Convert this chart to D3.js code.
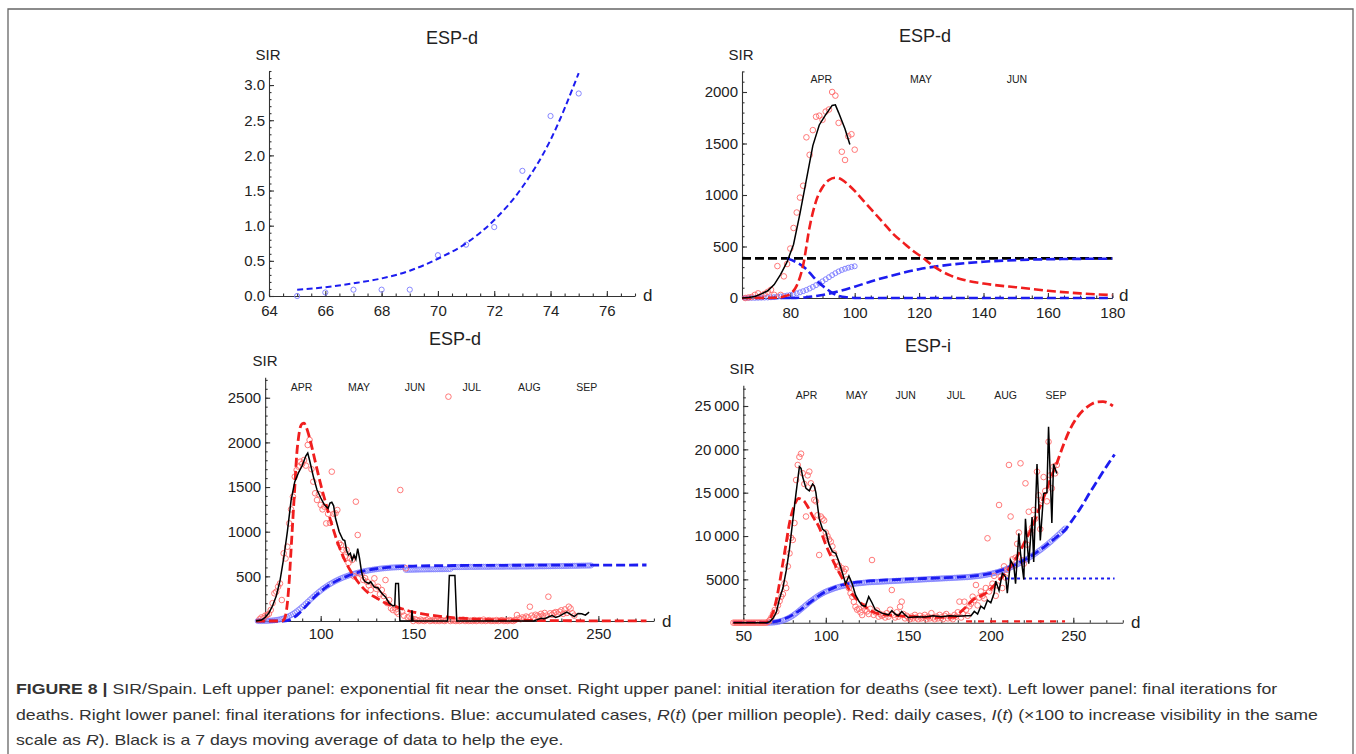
<!DOCTYPE html>
<html><head><meta charset="utf-8">
<script src="https://cdn.jsdelivr.net/npm/d3@7"></script>
<style>body{margin:0;background:#fff}svg{display:block}</style>
</head><body>
<svg id="c" width="1356" height="754"></svg>
<script>
// ---------------- DATA ----------------
const months = ["APR","MAY","JUN","JUL","AUG","SEP"];
const p2MonthDays = [89.6, 120.6, 150.4];
const p3MonthDays = [89.7, 120.7, 150.9, 181.6, 212.7, 243.7];
const p4MonthDays = [88.4, 118.7, 148.4, 178.9, 209.0, 239.5];

// Panel 1: exponential fit near the onset
const p1Days = [65,66,67,68,69,70,71,72,73,74,75];
const p1Obs  = [0.0,0.05,0.09,0.09,0.09,0.58,0.73,0.98,1.78,2.56,2.88];
const p1Fit  = [[65,0.09],[66,0.125],[67,0.18],[68,0.25],[69,0.36],[70,0.53],[71,0.75],[72,1.08],[73,1.55],[74,2.22],[75,3.17]];
const p1XTicks = [64,66,68,70,72,74,76];
const p1YTicks = [0,0.5,1,1.5,2,2.5,3];
const p1YTickLabels = ["0.0","0.5","1.0","1.5","2.0","2.5","3.0"];

// Panel 2: initial iteration for deaths
const p2Black = [[65,0],[67,5],[69,15],[71,40],[73,70],[75,130],[77,230],[79,350],[81,520],[83,820],[85,1150],[87,1480],[89,1680],[91,1780],[93,1870],[94,1875],[95,1800],[97,1640],[98.5,1490]];
const p2RedDays = [66,67,68,69,70,71,72,73,74,75,76,77,78,79,80,81,82,83,84,85,86,87,88,89,90,91,92,93,94,95,96,97,98,99,100];
const p2RedObs  = [0,5,10,30,45,20,40,60,80,30,310,30,210,330,480,680,830,975,1090,1560,1390,1630,1760,1770,1730,1810,1830,2000,1965,1700,1420,1340,1570,1590,1440];
const p2RedFit = [[65,0],[76,3],[78,15],[80,40],[82,120],[84,320],[86,690],[88,940],[90,1075],[92,1145],[94,1168],[96,1150],[98,1100],[100,1040],[102,970],[104,900],[106,830],[108,760],[110,690],[112,620],[115,540],[118,460],[121,395],[124,320],[127,260],[130,215],[134,175],[140,140],[145,120],[150,105],[160,70],[170,45],[180,28]];
const p2BlueDays = [66,67,68,69,70,71,72,73,74,75,76,77,78,79,80,81,82,83,84,85,86,87,88,89,90,91,92,93,94,95,96,97,98,99,100];
const p2BlueObs  = [0,0,1,1,2,3,4,5,7,9,12,15,19,24,30,37,45,55,66,78,92,108,125,143,162,182,202,222,241,258,272,284,294,302,308];
const p2BlueFit  = [[80,0],[85,8],[90,30],[95,65],[100,110],[105,160],[110,205],[115,245],[120,280],[125,305],[130,325],[135,340],[140,352],[150,368],[160,376],[170,380],[180,382]];
const p2BlueDown = [[79,385],[82,345],[85,280],[87,210],[89,145],[91,95],[93,50],[95,20],[98,5],[101,0],[180,0]];
const p2BlueBase = [[65,0],[80,0]];
const p2Level    = [[65,385],[180,385]];
const p2XTicks = [80,100,120,140,160,180];
const p2YTicks = [0,500,1000,1500,2000];

// Panel 3: final iterations for deaths
const p3Black = [[65,0],[68,10],[70,40],[72,90],[74,170],[76,280],[78,450],[80,700],[82,1000],[84,1350],[86,1560],[88,1660],[90,1740],[92,1850],[93,1880],[94,1800],[96,1620],[98,1470],[100,1380],[102,1300],[104,1260],[105,1320],[106,1330],[107,1290],[108,1150],[110,1000],[112,910],[113,900],[114,790],[115,740],[116,760],[117,680],[118,740],[119,690],[120,810],[121,700],[122,560],[123,470],[124,440],[126,420],[127,440],[129,380],[131,370],[133,310],[135,270],[137,200],[139,170],[140,170],[140.5,420],[142,420],[142.8,0],[149,0],[149.3,120],[149.8,0],[168.5,0],[169.5,510],[172.5,510],[173.5,0],[215,0],[217,15],[219,30],[221,25],[223,45],[225,60],[227,40],[229,55],[231,80],[233,100],[235,75],[237,50],[239,85],[241,80],[243,65],[245,100]];
const p3RedStart = 67;
const p3RedObs = [20,40,30,60,67,80,123,200,310,328,384,420,235,758,700,832,1093,1250,1392,1616,1690,1728,1784,1760,1803,1740,1971,2027,1700,1560,1430,1355,1420,1300,1250,1280,1093,1200,1100,1672,1200,1206,1243,870,850,796,720,796,650,700,684,500,1336,963,534,520,460,480,440,400,347,420,478,360,384,300,347,280,459,200,235,142,123,150,100,80,1467,104,60,590,40,50,30,0,
  20,10,0,15,5,0,10,20,0,5,10,0,15,0,10,5,0,10,2512,0,10,5,0,10,0,5,15,0,10,0,5,0,10,0,5,10,0,15,0,5,10,0,5,0,10,0,5,10,0,5,0,10,5,0,10,
  67,30,20,40,30,50,40,160,60,40,70,60,50,80,60,90,60,272,86,70,90,100,80,104,120,80,130,90,160,140,86,60];
const p3BlueStart = 66;
const p3BlueObs = [0,0,0,1,1,2,3,4,6,8, 11,14,18,23,29,36,45,55,66,78, 92,107,123,140,158,176,195,214,233,252, 271,289,307,324,341,357,372,386,400,413,
  425,437,448,458,468,477,486,494,502,509, 516,522,528,534,540,545,550,555,559,563, 567,571,574,577,580,583,586,588,590,592, 594,596,598,599,600,601,602,603,604,605,
  573,573,574,574,575,575,576,576,577,577, 577,578,578,578,579,579,579,580,580,580, 580,581,581,581,582,
  603,603,604,604,604,605,605,605,605,606, 606,606,606,606,607,607,607,607,607,607, 607,608,608,608,608,608,608,608,608,609, 609,609,609,609,609,609,610,610,610,610,
  610,610,611,611,611,611,611,612,612,612, 612,613,613,613,614,614,614,615,615,615, 616,616,616,617,617,618,618,618,619,619, 620,620,620,621,621,622];
const p3RedFit = [[65,0],[79,0],[80,10],[81,60],[82,200],[83,450],[84,800],[85,1150],[86,1500],[87,1850],[88,2050],[89,2170],[90,2210],[91,2215],[92,2180],[94,2050],[96,1880],[98,1700],[100,1530],[103,1300],[106,1080],[110,830],[114,640],[118,500],[122,390],[126,310],[130,260],[135,200],[140,165],[145,130],[150,100],[155,80],[160,65],[170,40],[180,25],[190,15],[200,10],[220,5],[250,2],[276,1]];
const p3BlueFit = [[65,0],[80,0],[82,5],[84,20],[86,45],[88,80],[90,120],[92,165],[94,210],[96,255],[98,295],[100,330],[103,380],[106,420],[110,465],[114,500],[118,530],[122,555],[126,572],[130,585],[135,597],[140,605],[145,611],[150,615],[160,619],[180,622],[220,625],[276,627]];
const p3XTicks = [100,150,200,250];
const p3YTicks = [500,1000,1500,2000,2500];

// Panel 4: final iterations for infections
const p4Black = [[44,0],[64,0],[66,100],[68,500],[70,1200],[72,2800],[74,4000],[76,6000],[78,8500],[80,11800],[82,15000],[84,18000],[85,17800],[86,16800],[88,15500],[90,15200],[92,16000],[93,15800],[94,15000],[96,12000],[98,10800],[100,10500],[102,9000],[104,8200],[106,8000],[108,7000],[110,5800],[112,4500],[114,5400],[116,4500],[118,3200],[120,2500],[122,2000],[124,1900],[126,3000],[128,2300],[130,1500],[132,1300],[134,1100],[136,1000],[138,900],[140,1400],[142,1000],[144,800],[146,1300],[148,900],[150,600],[155,700],[160,650],[165,800],[170,700],[175,800],[180,750],[185,800],[188,800],[190,1300],[192,1000],[194,1900],[196,1600],[198,2600],[200,2300],[202,3400],[203,4800],[205,3700],[207,5700],[209,5300],[210,3400],[212,7200],[214,6500],[215,4500],[217,10300],[218,8000],[220,5000],[221,12000],[223,6800],[225,12200],[226,7000],[228,18300],[230,9500],[232,14900],[234,15000],[235,22600],[237,11500],[238,18300],[240,17200]];
const p4RedStart = 44;
const p4RedObs = [0,0,0,0,0,0,0,0,0,0,0,0,0,0,0,0,0,0,0,0,0,
  100,300,600,1000,1460,1300,2000,2500,3000,3300,4540,4000,6500,8000,9800,9550,11500,16460,18200,19120,19500,17240,16000,12250,17000,17430,16080,15500,14160,14000,12400,7810,12250,12000,11800,10400,10000,9600,9360,8800,8000,7000,6400,6600,6080,6270,5900,6200,5000,4000,3400,3000,2400,1840,1500,1600,1200,880,1900,1500,1300,1000,1600,7230,900,1200,1400,700,1000,800,900,600,1100,700,1500,3770,900,600,1200,700,1840,2430,1000,500,800,
  600,400,700,500,900,600,400,800,500,600,900,400,700,500,1100,600,400,700,500,900,600,400,800,1000,500,700,600,400,900,700,1200,2430,600,1000,2420,1500,800,1900,2200,3000,2600,4350,2000,2900,3600,3100,2800,4000,9740,3600,4000,4500,5400,3100,4300,13580,5300,4000,6500,5200,6100,18200,12250,7300,6600,7500,9100,10400,18390,7200,6800,16080,9000,12800,10400,10960,13000,12000,17420,14700,10800,14100,16800,15200,14000,20870,17000,15500,18000,17230,18200];
const p4BlueStart = 65;
const p4BlueObs = [0,5,10,20,40,70, 100,140,190,250,320,400,490,590,700,820, 950,1090,1240,1400,1560,1720,1880,2040,2200,2360, 2500,2640,2780,2920,3050,3170,3280,3390,3490,3580,
  3660,3740,3810,3880,3950,4010,4070,4130,4180,4230, 4270,4310,4350,4390,4420,4450,4480,4510,4530,4550, 4570,4590,4610,4630,4650,4660,4670,4680,4690,4700,
  4710,4720,4730,4740,4750,4760,4770,4780,4790,4800, 4810,4820,4830,4840,4850,4860,4870,4880,4890,4900, 4910,4920,4930,4940,4950,4960,4970,4980,4990,5000,
  5010,5020,5030,5040,5050,5060,5070,5080,5090,5100, 5110,5120,5130,5140,5150,5160,5170,5180,5190,5200, 5210,5220,5230,5240,5250,5260,5280,5300,5320,5340,
  5360,5380,5400,5430,5460,5490,5520,5560,5600,5640, 5680,5730,5780,5830,5890,5950,6010,6080,6150,6220, 6300,6380,6460,6550,6640,6730,6830,6930,7030,7140,
  7250,7360,7480,7600,7720,7850,7980,8110,8250,8390, 8530,8680,8830,8980,9140,9300,9460,9630,9800,9970, 10140,10320,10500,10680,10860];
const p4RedFit = [[44,0],[62,0],[64,50],[66,400],[68,1200],[70,2600],[72,4600],[74,6900],[76,9200],[78,11500],[80,13000],[82,14000],[83.5,14350],[85,14250],[87,14000],[89,13400],[92,12300],[96,11000],[100,9000],[104,7300],[108,5800],[112,4500],[116,3300],[120,2500],[123,2000],[128,1300],[133,1000],[140,850],[150,720],[160,650],[170,620],[178,640],[182,1300],[185,1800],[189,2600],[193,3000],[197,3400],[202,4300],[207,5300],[212,6500],[217,8000],[221,9500],[225,11000],[229,13000],[233,14900],[236,16500],[240,18400],[244,20500],[248,22300],[252,23600],[256,24500],[260,25100],[264,25450],[268,25500],[271,25350],[274,25000]];
const p4RedBase = [[185,150],[245,150]];
const p4BlueFit = [[44,0],[62,0],[66,50],[70,150],[75,450],[80,900],[85,1550],[90,2300],[95,3000],[100,3600],[105,4050],[110,4350],[115,4550],[120,4680],[130,4850],[140,4950],[150,5030],[160,5100],[170,5170],[180,5250],[190,5400],[200,5700],[210,6300],[220,7200],[230,8400],[240,9900],[245,10700],[250,12000],[255,13400],[260,15000],[265,16500],[270,18000],[275,19400]];
const p4BlueFlat = [[205,5100],[275,5100]];
const p4XTicks = [50,100,150,200,250];
const p4YTicks = [5000,10000,15000,20000,25000];
const p4YTickLabels = ["5000","10\u2009000","15\u2009000","20\u2009000","25\u2009000"];

const captionLines = [
  [{t:"FIGURE 8 | ",b:1},{t:"SIR/Spain. Left upper panel: exponential fit near the onset. Right upper panel: initial iteration for deaths (see text). Left lower panel: final iterations for"}],
  [{t:"deaths. Right lower panel: final iterations for infections. Blue: accumulated cases, "},{t:"R",i:1},{t:"("},{t:"t",i:1},{t:") (per million people). Red: daily cases, "},{t:"I",i:1},{t:"("},{t:"t",i:1},{t:") (\u00d7100 to increase visibility in the same"}],
  [{t:"scale as "},{t:"R",i:1},{t:"). Black is a 7 days moving average of data to help the eye."}]
];

// ---------------- DRAWING ----------------
const FONT = "'Liberation Sans', Arial, Helvetica, sans-serif";
const svg = d3.select('#c');
const RED = "#f01e1e", BLUE = "#1c1cf0", RED_O = "#ff6a6a", BLUE_O = "#7b7bff";

// frame
svg.append('path').attr('d','M8,754V9H1353V754').attr('fill','none').attr('stroke','#666').attr('stroke-width',1.3);

const range = (a,b,s)=>d3.range(a,b+s/2,s);

function panel(c){
  const g = svg.append('g');
  const x = d3.scaleLinear(c.xd, c.xr);
  const y = d3.scaleLinear(c.yd, c.yr);
  const y0 = y(0), x0 = x(c.yAt);
  const ax = (sel)=>sel.call(s=>s.selectAll('path,line').attr('stroke','#333').attr('stroke-width',1.1))
                        .call(s=>s.selectAll('text').attr('font-family',FONT).attr('font-size',15).attr('fill','#222'));
  // minor ticks
  g.append('g').attr('transform',`translate(0,${y0})`)
    .call(d3.axisBottom(x).tickValues(c.xMinor).tickSize(-2.5).tickFormat(()=>'')).call(ax)
    .call(s=>s.select('.domain').remove());
  g.append('g').attr('transform',`translate(${x0},0)`)
    .call(d3.axisLeft(y).tickValues(c.yMinor).tickSize(-2.5).tickFormat(()=>'')).call(ax)
    .call(s=>s.select('.domain').remove());
  // major
  g.append('g').attr('transform',`translate(0,${y0})`)
    .call(d3.axisBottom(x).tickValues(c.xTicks).tickSize(-5).tickSizeOuter(0).tickPadding(c.xPad).tickFormat(c.xFmt||d3.format('d'))).call(ax);
  g.append('g').attr('transform',`translate(${x0},0)`)
    .call(d3.axisLeft(y).tickValues(c.yTicks).tickSize(-5).tickSizeOuter(0).tickPadding(4).tickFormat(c.yFmt)).call(ax);
  // labels
  const txt = (t,px,py,size,anchor)=>g.append('text').attr('x',px).attr('y',py).attr('font-family',FONT)
      .attr('font-size',size).attr('fill','#222').attr('text-anchor',anchor||'middle').text(t);
  txt(c.title, c.titleX, c.titleY, 18);
  txt('SIR', c.sirX, c.sirY, 15);
  txt('d', c.dX, c.dY, 17, 'start');
  if (c.monthDays) c.monthDays.forEach((m,i)=>txt(months[i], x(m), c.monthY, 10.5));
  const plot = g.append('g');
  const line = (data, color, w, dash, curve)=>plot.append('path').datum(data)
      .attr('d', d3.line().x(d=>x(d[0])).y(d=>y(d[1])).curve(curve||d3.curveMonotoneX))
      .attr('fill','none').attr('stroke',color).attr('stroke-width',w).attr('stroke-dasharray',dash||null);
  const dots = (days, vals, color, r, op)=>plot.append('g').selectAll('circle').data(days.map((d,i)=>[d,vals[i]])).join('circle')
      .attr('cx',d=>x(d[0])).attr('cy',d=>y(d[1])).attr('r',r).attr('fill','none').attr('stroke',color).attr('stroke-width',1).attr('opacity',op);
  c.draw({line, dots, x, y});
}

const seq = (start,n)=>d3.range(start,start+n);

// Panel 1
panel({xd:[64,77], xr:[269,635], yd:[0,3.2], yr:[296,71], yAt:64,
  xTicks:p1XTicks, xMinor:range(64,77,0.5), yTicks:p1YTicks, yMinor:range(0,3.2,0.1),
  yFmt:(d,i)=>p1YTickLabels[i], xPad:9, title:'ESP-d', titleX:452, titleY:44, sirX:268, sirY:60, dX:643, dY:301,
  draw:({line,dots})=>{
    dots(p1Days, p1Obs, BLUE_O, 2.6, 0.9);
    line(p1Fit, BLUE, 2, '6,3.5');
  }});

// Panel 2
panel({xd:[65,180], xr:[742,1112.3], yd:[0,2200], yr:[298,71.4], yAt:65,
  xTicks:p2XTicks, xMinor:range(65,180,5), yTicks:p2YTicks, yMinor:range(0,2200,100),
  yFmt:d3.format('d'), xPad:9.5, title:'ESP-d', titleX:925, titleY:42, sirX:741, sirY:60, dX:1119, dY:301,
  monthDays:p2MonthDays, monthY:83,
  draw:({line,dots})=>{
    line(p2Level, '#000', 2.6, '9,4', d3.curveLinear);
    dots(p2BlueDays, p2BlueObs, BLUE_O, 2.5, 0.9);
    dots(p2RedDays, p2RedObs, RED_O, 2.8, 0.9);
    line(p2BlueBase, BLUE, 2.6, '9,4', d3.curveLinear);
    line(p2BlueDown, BLUE, 2.6, '9,4');
    line(p2BlueFit, BLUE, 2.6, '9,4');
    line(p2RedFit, RED, 2.6, '9,4');
    line(p2Black, '#000', 1.5, null, d3.curveLinear);
  }});

// Panel 3
panel({xd:[65,280], xr:[255.9,653.9], yd:[0,2730], yr:[621,377.2], yAt:70,
  xTicks:p3XTicks, xMinor:range(70,280,10), yTicks:p3YTicks, yMinor:range(0,2700,100),
  yFmt:d3.format('d'), xPad:7, title:'ESP-d', titleX:455, titleY:345, sirX:265, sirY:366, dX:662, dY:627,
  monthDays:p3MonthDays, monthY:391,
  draw:({line,dots})=>{
    dots(seq(p3BlueStart,p3BlueObs.length), p3BlueObs, BLUE_O, 2.6, 0.75);
    dots(seq(p3RedStart,p3RedObs.length), p3RedObs, RED_O, 2.8, 0.9);
    line(p3BlueFit, BLUE, 2.8, '9,4');
    line(p3RedFit, RED, 2.8, '9,4');
    line(p3Black, '#000', 1.5, null, d3.curveLinear);
  }});

// Panel 4
panel({xd:[44,280], xr:[733.4,1122.8], yd:[0,27400], yr:[622.7,385.2], yAt:50,
  xTicks:p4XTicks, xMinor:range(50,280,10), yTicks:p4YTicks, yMinor:range(0,27000,1000),
  yFmt:(d,i)=>p4YTickLabels[i], xPad:7.2, title:'ESP-i', titleX:928, titleY:352, sirX:742, sirY:374, dX:1131, dY:628,
  monthDays:p4MonthDays, monthY:399,
  draw:({line,dots})=>{
    dots(seq(p4BlueStart,p4BlueObs.length), p4BlueObs, BLUE_O, 2.6, 0.75);
    dots(seq(p4RedStart,p4RedObs.length), p4RedObs, RED_O, 2.8, 0.9);
    line(p4BlueFlat, BLUE, 2.2, '3,3', d3.curveLinear);
    line(p4BlueFit, BLUE, 2.8, '9,4');
    line(p4RedBase, RED, 2.2, '6,6', d3.curveLinear);
    line(p4RedFit, RED, 2.8, '9,4');
    line(p4Black, '#000', 1.5, null, d3.curveLinear);
  }});

// Caption
const capY = [694, 719.5, 745];
const capNodes = captionLines.map((parts,li)=>{
  const t = svg.append('text').attr('font-family',FONT).attr('font-size',15).attr('fill','#333')
     .attr('transform',`translate(16,${capY[li]})`);
  parts.forEach(p=>t.append('tspan').text(p.t).attr('font-weight',p.b?'bold':null).attr('font-style',p.i?'italic':null));
  return t;
});
const w2 = capNodes[1].node().getComputedTextLength();
const sx = (1319-16)/w2;
capNodes.forEach((t,li)=>t.attr('transform',`translate(16,${capY[li]}) scale(${sx},1)`));
</script>
</body></html>
